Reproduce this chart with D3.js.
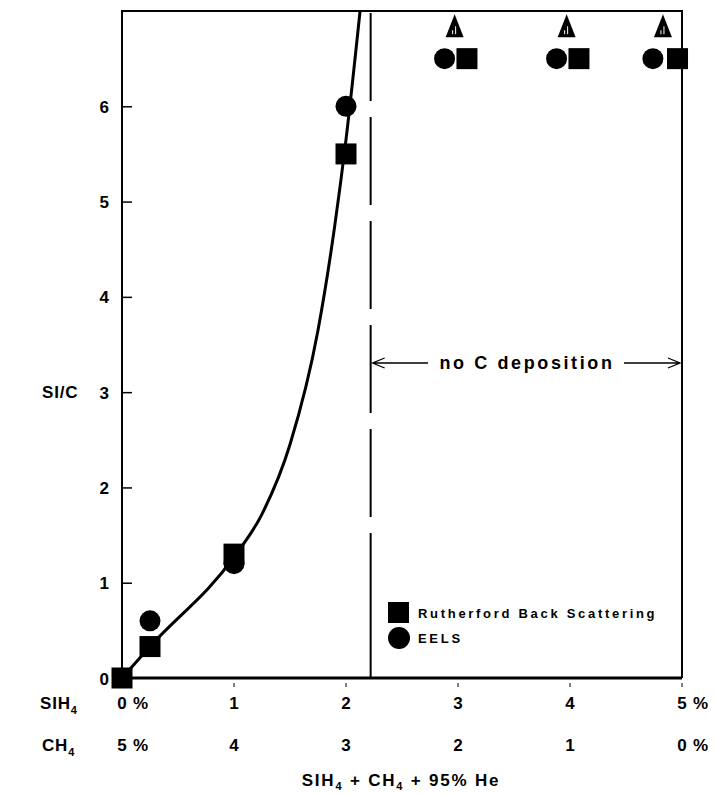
<!DOCTYPE html>
<html>
<head>
<meta charset="utf-8">
<script src="https://cdn.jsdelivr.net/npm/d3@7/dist/d3.min.js"></script>
<style>
  body { margin: 0; background: #fff; }
  text { font-family: "Liberation Sans", Arial, sans-serif; font-weight: bold; fill: #000; }
</style>
</head>
<body>
<div id="chart"></div>
<script>
// data
const rbsX = [0, 0.25, 1, 2];
const rbsY = [0, 0.33, 1.3, 5.5];
const eelsX = [0.25, 1, 2];
const eelsY = [0.6, 1.2, 6];
// fitted curve drawn through the measurements
const fitX = [0, 0.25, 1, 1.25, 1.5, 1.75, 1.9, 2.0, 2.13];
const fitY = [0, 0.33, 1.27, 1.72, 2.45, 3.65, 4.75, 5.65, 7.05];
// points above the plotted range (no C deposition)
const topRbsX = [3.08, 4.08, 4.96];
const topEelsX = [2.88, 3.88, 4.74];
const topArrowX = [2.97, 3.97, 4.83];
const topY = 6.5;
const topArrowY = 6.84;
const limitX = 2.22;
const yTicks = [0, 1, 2, 3, 4, 5, 6];
const sihTicks = ['0', '1', '2', '3', '4', '5'];
const chTicks = ['5', '4', '3', '2', '1', '0'];

const W = 716, H = 794;
const svg = d3.select('#chart').append('svg').attr('width', W).attr('height', H);

const x = d3.scaleLinear().domain([0, 5]).range([122, 682]);
const y = d3.scaleLinear().domain([0, 7]).range([678, 11]);

svg.append('defs').append('clipPath').attr('id', 'plot')
  .append('rect').attr('x', x(0)).attr('y', y(7)).attr('width', x(5) - x(0)).attr('height', y(0) - y(7));

// frame
svg.append('path')
  .attr('d', `M${x(0)},${y(0)}V${y(7)}H${x(5)}V${y(0)}`)
  .attr('fill', 'none').attr('stroke', '#000').attr('stroke-width', 2);
svg.append('line')
  .attr('x1', x(0)).attr('x2', x(5)).attr('y1', y(0)).attr('y2', y(0))
  .attr('stroke', '#000').attr('stroke-width', 3);

// y axis, ticks pointing in
const yAxis = svg.append('g').attr('transform', `translate(${x(0)},0)`)
  .call(d3.axisLeft(y).tickValues(yTicks).tickSize(-10).tickPadding(13).tickFormat(d3.format('d')));
yAxis.select('.domain').remove();
yAxis.selectAll('line').attr('stroke-width', 1.5);
yAxis.selectAll('text').attr('font-size', 17).attr('font-family', '"Liberation Sans", Arial, sans-serif')
  .attr('font-weight', 'bold').attr('dy', '0.36em');

// small x ticks below the axis
svg.selectAll('.xtick').data(d3.range(6)).enter().append('line')
  .attr('x1', d => x(d)).attr('x2', d => x(d))
  .attr('y1', y(0) + 5).attr('y2', y(0) + 9)
  .attr('stroke', '#000').attr('stroke-width', 1);

// x tick label rows
function row(labels, ty) {
  labels.forEach((t, i) => {
    svg.append('text').attr('x', x(i)).attr('y', ty).attr('font-size', 17).attr('text-anchor', 'middle').text(t);
    if (i === 0 || i === 5) {
      svg.append('text').attr('x', x(i) + 11).attr('y', ty).attr('font-size', 17).text('%');
    }
  });
}
row(sihTicks, 709);
row(chTicks, 751);

function chem(tx, ty, base) {
  const t = svg.append('text').attr('x', tx).attr('y', ty).attr('font-size', 17).attr('letter-spacing', 0.8);
  t.append('tspan').text(base);
  t.append('tspan').attr('font-size', 11).attr('dy', 5).text('4');
  return t;
}
chem(40, 709, 'SIH');
chem(42, 751, 'CH');

// x title
const xt = svg.append('text').attr('x', 401).attr('y', 786).attr('font-size', 17)
  .attr('text-anchor', 'middle').attr('letter-spacing', 1.8);
xt.append('tspan').text('SIH');
xt.append('tspan').attr('font-size', 11).attr('dy', 4).text('4');
xt.append('tspan').attr('dy', -4).text(' + CH');
xt.append('tspan').attr('font-size', 11).attr('dy', 4).text('4');
xt.append('tspan').attr('dy', -4).text(' + 95% He');

// y title
svg.append('text').attr('x', 42).attr('y', 398).attr('font-size', 17).attr('letter-spacing', 0.8).text('SI/C');

// deposition limit
svg.append('line')
  .attr('x1', x(limitX)).attr('x2', x(limitX)).attr('y1', y(7) + 2).attr('y2', 578)
  .attr('stroke', '#000').attr('stroke-width', 2).attr('stroke-dasharray', '88,16');
svg.append('line')
  .attr('x1', x(limitX)).attr('x2', x(limitX)).attr('y1', 578).attr('y2', y(0))
  .attr('stroke', '#000').attr('stroke-width', 2);

// no C deposition label with arrows
const ay = 363;
svg.append('path')
  .attr('d', `M${x(limitX) + 2},${ay}H428M${x(limitX) + 14},${ay - 5}L${x(limitX) + 2},${ay}L${x(limitX) + 14},${ay + 5}`)
  .attr('fill', 'none').attr('stroke', '#000').attr('stroke-width', 1.3);
svg.append('path')
  .attr('d', `M624,${ay}H${x(5) - 2}M${x(5) - 14},${ay - 5}L${x(5) - 2},${ay}L${x(5) - 14},${ay + 5}`)
  .attr('fill', 'none').attr('stroke', '#000').attr('stroke-width', 1.3);
svg.append('text').attr('x', 527).attr('y', ay + 6).attr('font-size', 18)
  .attr('text-anchor', 'middle').attr('letter-spacing', 2.6).text('no C deposition');

// fitted curve
const line = d3.line().x(d => x(d[0])).y(d => y(d[1])).curve(d3.curveMonotoneX);
svg.append('path')
  .datum(d3.zip(fitX, fitY))
  .attr('clip-path', 'url(#plot)')
  .attr('d', line)
  .attr('fill', 'none').attr('stroke', '#000').attr('stroke-width', 3);

// markers
const sq = 21, rad = 10.5;
function squares(xs, ys) {
  svg.append('g').selectAll('rect').data(d3.zip(xs, ys)).enter().append('rect')
    .attr('x', d => x(d[0]) - sq / 2).attr('y', d => y(d[1]) - sq / 2)
    .attr('width', sq).attr('height', sq).attr('fill', '#000');
}
function circles(xs, ys) {
  svg.append('g').selectAll('circle').data(d3.zip(xs, ys)).enter().append('circle')
    .attr('cx', d => x(d[0])).attr('cy', d => y(d[1])).attr('r', rad).attr('fill', '#000');
}
circles(eelsX, eelsY);
squares(rbsX, rbsY);
circles(topEelsX, topEelsX.map(() => topY));
squares(topRbsX, topRbsX.map(() => topY));

// off-scale arrow markers
const tri = svg.append('g').selectAll('g').data(topArrowX).enter().append('g')
  .attr('transform', d => `translate(${x(d)},${y(topArrowY)})`);
tri.append('path').attr('d', 'M0,-12L9,11L-9,11Z').attr('fill', '#000');
tri.append('path').attr('d', 'M1,0V8M-2,4V8').attr('stroke', '#fff').attr('stroke-width', 1);

// legend
svg.append('rect').attr('x', 388).attr('y', 602).attr('width', 21).attr('height', 21).attr('fill', '#000');
svg.append('circle').attr('cx', 399).attr('cy', 638).attr('r', 11).attr('fill', '#000');
svg.append('text').attr('x', 418).attr('y', 618).attr('font-size', 13).attr('letter-spacing', 2.7).text('Rutherford Back Scattering');
svg.append('text').attr('x', 418).attr('y', 643).attr('font-size', 13).attr('letter-spacing', 2.7).text('EELS');
</script>
</body>
</html>
